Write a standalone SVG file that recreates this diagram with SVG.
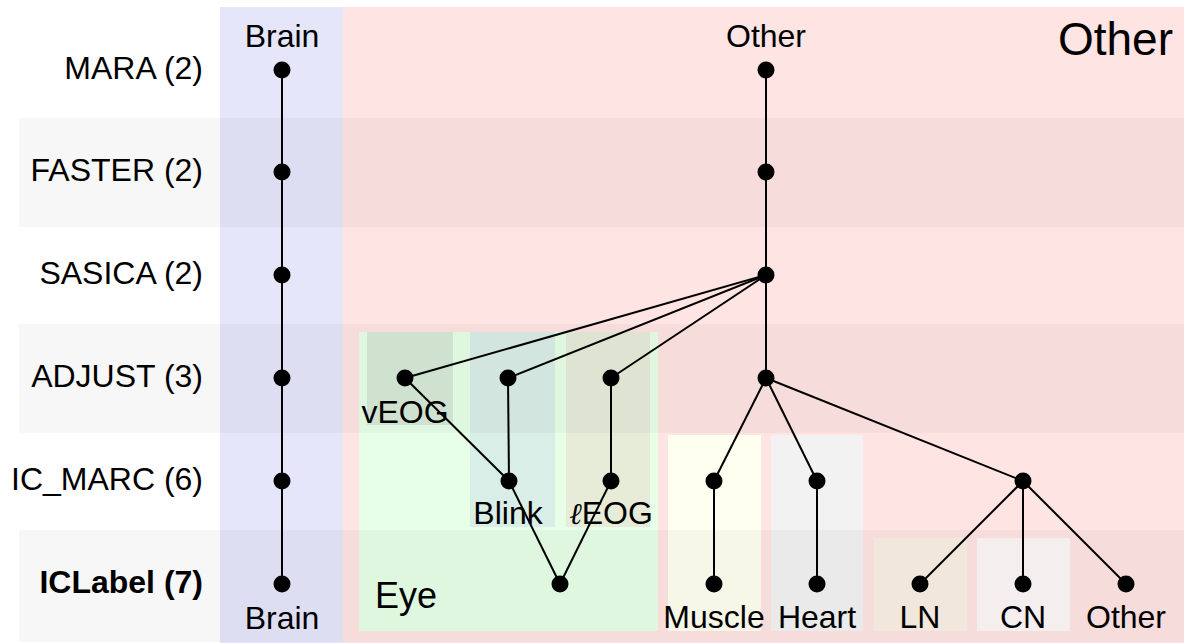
<svg xmlns="http://www.w3.org/2000/svg" width="1184" height="643" viewBox="0 0 1184 643">
  <style>
    text { font-family: "Liberation Sans", Arial, Helvetica, sans-serif; fill: #000; }
    .lbl { font-size: 32px; text-anchor: middle; }
    .row { font-size: 32px; text-anchor: end; }
    .band { fill: #000; fill-opacity: 0.032; }
    .edge { stroke: #000; stroke-width: 2; fill: none; }
    .dot { fill: #000; }
  </style>

  <!-- category regions -->
  <g id="regions">
    <rect x="220" y="7" width="123" height="636" fill="#e6e6fb"/>
    <rect x="343" y="7" width="841" height="636" fill="#ffe4e4"/>
    <rect x="359" y="332" width="299" height="299" fill="#e6ffe6"/>
    <rect x="367" y="332" width="86" height="93" fill="#d6e9d6"/>
    <rect x="470" y="332" width="85" height="195" fill="#d9eee7"/>
    <rect x="566" y="332" width="84" height="195" fill="#e6ecd8"/>
    <rect x="668" y="435" width="93" height="196" fill="#fffff0"/>
    <rect x="771" y="435" width="92" height="196" fill="#f2f2f2"/>
    <rect x="874" y="538" width="93" height="93" fill="#faefe4"/>
    <rect x="977" y="538" width="93" height="93" fill="#fdf6f6"/>
  </g>

  <!-- alternating row shading -->
  <g id="row-bands">
    <rect class="band" x="19" y="118" width="1165" height="109"/>
    <rect class="band" x="19" y="324" width="1165" height="109"/>
    <rect class="band" x="19" y="530" width="1165" height="112"/>
  </g>

  <!-- method names -->
  <g id="row-labels">
    <text class="row" x="203" y="79">MARA (2)</text>
    <text class="row" x="203" y="181">FASTER (2)</text>
    <text class="row" x="203" y="284">SASICA (2)</text>
    <text class="row" x="203" y="387">ADJUST (3)</text>
    <text class="row" x="203" y="490">IC_MARC (6)</text>
    <text class="row" x="203" y="593" font-weight="bold">ICLabel (7)</text>
  </g>

  <!-- region titles -->
  <g id="region-labels">
    <text class="lbl" x="282" y="47">Brain</text>
    <text class="lbl" x="766" y="47">Other</text>
    <text x="1173" y="55" font-size="46" text-anchor="end">Other</text>
    <text x="375" y="608" font-size="36">Eye</text>
  </g>

  <g id="connectors">
    <line class="edge" x1="282" y1="70" x2="282" y2="584"/>
    <line class="edge" x1="766" y1="70" x2="766" y2="378"/>
    <line class="edge" x1="766" y1="275" x2="405" y2="378"/>
    <line class="edge" x1="766" y1="275" x2="508" y2="378"/>
    <line class="edge" x1="766" y1="275" x2="611" y2="378"/>
    <line class="edge" x1="405" y1="378" x2="509" y2="481"/>
    <line class="edge" x1="508" y1="378" x2="509" y2="481"/>
    <line class="edge" x1="611" y1="378" x2="611" y2="481"/>
    <line class="edge" x1="509" y1="481" x2="560" y2="584"/>
    <line class="edge" x1="611" y1="481" x2="560" y2="584"/>
    <line class="edge" x1="766" y1="378" x2="714" y2="481"/>
    <line class="edge" x1="766" y1="378" x2="817" y2="481"/>
    <line class="edge" x1="766" y1="378" x2="1023" y2="481"/>
    <line class="edge" x1="714" y1="481" x2="714" y2="584"/>
    <line class="edge" x1="817" y1="481" x2="817" y2="584"/>
    <line class="edge" x1="1023" y1="481" x2="920" y2="584"/>
    <line class="edge" x1="1023" y1="481" x2="1023" y2="584"/>
    <line class="edge" x1="1023" y1="481" x2="1126" y2="584"/>
  </g>

  <!-- Brain lineage -->
  <g id="brain-mara"><circle class="dot" cx="282" cy="70" r="8.5"/></g>
  <g id="brain-faster"><circle class="dot" cx="282" cy="172" r="8.5"/></g>
  <g id="brain-sasica"><circle class="dot" cx="282" cy="275" r="8.5"/></g>
  <g id="brain-adjust"><circle class="dot" cx="282" cy="378" r="8.5"/></g>
  <g id="brain-icmarc"><circle class="dot" cx="282" cy="481" r="8.5"/></g>
  <g id="brain-iclabel"><circle class="dot" cx="282" cy="584" r="8.5"/><text class="lbl" x="282" y="629">Brain</text></g>

  <!-- Other lineage -->
  <g id="other-mara"><circle class="dot" cx="766" cy="70" r="8.5"/></g>
  <g id="other-faster"><circle class="dot" cx="766" cy="172" r="8.5"/></g>
  <g id="other-sasica"><circle class="dot" cx="766" cy="275" r="8.5"/></g>
  <g id="other-adjust"><circle class="dot" cx="766" cy="378" r="8.5"/></g>

  <!-- ADJUST eye classes -->
  <g id="veog-adjust"><circle class="dot" cx="405" cy="378" r="8.5"/><text class="lbl" x="405" y="423">vEOG</text></g>
  <g id="blink-adjust"><circle class="dot" cx="508" cy="378" r="8.5"/></g>
  <g id="leog-adjust"><circle class="dot" cx="611" cy="378" r="8.5"/></g>

  <!-- IC_MARC classes -->
  <g id="blink-icmarc"><circle class="dot" cx="509" cy="481" r="8.5"/><text class="lbl" x="508" y="524">Blink</text></g>
  <g id="leog-icmarc"><circle class="dot" cx="611" cy="481" r="8.5"/><text class="lbl" x="611" y="524"><tspan font-family="'DejaVu Serif', serif" font-style="italic" font-size="30">ℓ</tspan>EOG</text></g>
  <g id="muscle-icmarc"><circle class="dot" cx="714" cy="481" r="8.5"/></g>
  <g id="heart-icmarc"><circle class="dot" cx="817" cy="481" r="8.5"/></g>
  <g id="other-icmarc"><circle class="dot" cx="1023" cy="481" r="8.5"/></g>

  <!-- ICLabel classes -->
  <g id="eye-iclabel"><circle class="dot" cx="560" cy="584" r="8.5"/></g>
  <g id="muscle-iclabel"><circle class="dot" cx="714" cy="584" r="8.5"/><text class="lbl" x="714" y="628">Muscle</text></g>
  <g id="heart-iclabel"><circle class="dot" cx="817" cy="584" r="8.5"/><text class="lbl" x="817" y="628">Heart</text></g>
  <g id="ln-iclabel"><circle class="dot" cx="920" cy="584" r="8.5"/><text class="lbl" x="920" y="628">LN</text></g>
  <g id="cn-iclabel"><circle class="dot" cx="1023" cy="584" r="8.5"/><text class="lbl" x="1023" y="628">CN</text></g>
  <g id="other-iclabel"><circle class="dot" cx="1126" cy="584" r="8.5"/><text class="lbl" x="1126" y="628">Other</text></g>
</svg>
